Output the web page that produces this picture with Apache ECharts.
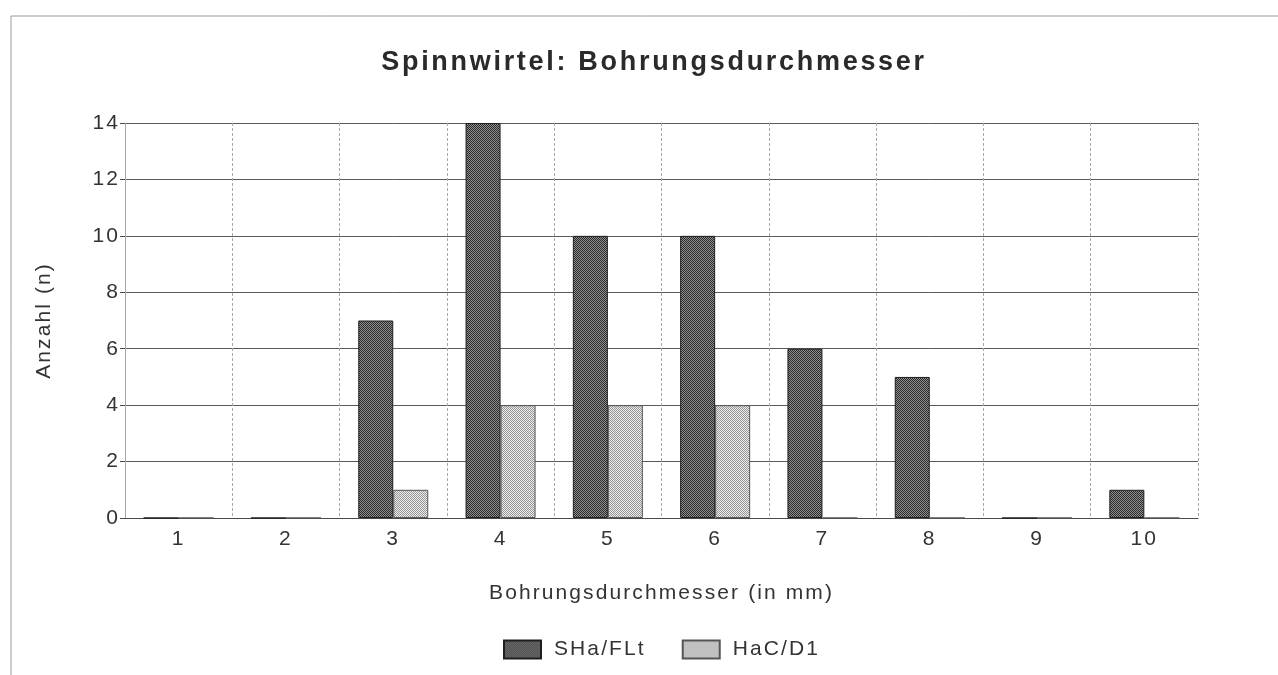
<!DOCTYPE html>
<html>
<head>
<meta charset="utf-8">
<title>Spinnwirtel: Bohrungsdurchmesser</title>
<script src="https://cdnjs.cloudflare.com/ajax/libs/echarts/6.0.0/echarts.min.js"></script>
<style>
  html, body { margin: 0; padding: 0; background: #fff; }
  #chart { width: 1278px; height: 675px; }
</style>
</head>
<body>
<div id="chart"></div>
<script>
  // data
  var categories = ['1', '2', '3', '4', '5', '6', '7', '8', '9', '10'];
  var shaFlt = [0, 0, 7, 14, 10, 10, 6, 5, 0, 1];
  var hacD1 = [0, 0, 1, 4, 4, 4, 0, 0, 0, 0];
  var seriesNames = ['SHa/FLt', 'HaC/D1'];
  var yMin = 0, yMax = 14, yStep = 2;

  var FONT = '"Liberation Sans", Arial, sans-serif';
  var INK = '#333';

  // the old print has a bit of letter spacing on every text; canvas supports it natively
  (function () {
    var proto = CanvasRenderingContext2D.prototype;
    if (!('letterSpacing' in proto)) return;
    function spread(ctx) {
      var m = /(\d+(?:\.\d+)?)px/.exec(ctx.font);
      ctx.letterSpacing = m ? (parseFloat(m[1]) * 0.1).toFixed(1) + 'px' : '0px';
    }
    var fill = proto.fillText, measure = proto.measureText;
    proto.fillText = function () { spread(this); return fill.apply(this, arguments); };
    proto.measureText = function () { spread(this); return measure.apply(this, arguments); };
  })();

  // small raster tiles to mimic the screened fills
  function tile(bg, fg) {
    var c = document.createElement('canvas');
    c.width = 4; c.height = 4;
    var g = c.getContext('2d');
    g.fillStyle = bg;
    g.fillRect(0, 0, 4, 4);
    g.fillStyle = fg;
    for (var y = 0; y < 4; y++) {
      for (var x = 0; x < 4; x++) {
        if ((x + y) % 2 === 0) g.fillRect(x, y, 1, 1);
      }
    }
    return { image: c, repeat: 'repeat' };
  }
  var darkFill = tile('#8e8e8e', '#2c2c2c');
  var lightFill = tile('#ececec', '#969696');

  var chart = echarts.init(document.getElementById('chart'), null, { renderer: 'canvas' });

  chart.setOption({
    backgroundColor: '#fff',
    animation: false,
    textStyle: { fontFamily: FONT, color: INK },
    title: {
      text: 'Spinnwirtel: Bohrungsdurchmesser',
      left: 649,
      top: 43,
      textAlign: 'center',
      textStyle: { fontFamily: FONT, fontSize: 27, fontWeight: 'bold', color: '#2a2a2a' }
    },
    grid: { left: 125, right: 80, top: 123, bottom: 157 },
    legend: {
      left: 498,
      top: 633,
      icon: 'rect',
      itemWidth: 37,
      itemHeight: 18,
      itemGap: 36,
      textStyle: { fontFamily: FONT, fontSize: 21, color: INK, padding: [0, 0, 0, 8] },
      data: seriesNames
    },
    xAxis: {
      type: 'category',
      data: categories,
      name: 'Bohrungsdurchmesser (in mm)',
      nameLocation: 'middle',
      nameGap: 64,
      nameTextStyle: { fontFamily: FONT, fontSize: 21, color: INK },
      axisLine: { lineStyle: { color: '#4a4a4a', width: 1 } },
      axisTick: { length: 4, lineStyle: { color: '#8a8a8a' } },
      axisLabel: { fontFamily: FONT, fontSize: 21, color: INK, margin: 10 },
      splitLine: { show: true, lineStyle: { color: '#a8a8a8', type: [3, 2] } }
    },
    yAxis: {
      type: 'value',
      min: yMin,
      max: yMax,
      interval: yStep,
      name: 'Anzahl (n)',
      nameLocation: 'middle',
      nameGap: 69,
      nameTextStyle: { fontFamily: FONT, fontSize: 21, color: INK },
      axisLine: { show: true, lineStyle: { color: '#a8a8a8', type: [3, 2] } },
      axisTick: { show: true, length: 5, lineStyle: { color: '#4a4a4a' } },
      axisLabel: { fontFamily: FONT, fontSize: 21, color: INK, margin: 5 },
      splitLine: { show: true, lineStyle: { color: '#5a5a5a', width: 1 } }
    },
    series: [
      {
        name: seriesNames[0],
        type: 'bar',
        data: shaFlt,
        barWidth: 35,
        barGap: '0%',
        itemStyle: { color: darkFill, borderColor: '#1e1e1e', borderWidth: 1 }
      },
      {
        name: seriesNames[1],
        type: 'bar',
        data: hacD1,
        barWidth: 35,
        barGap: '0%',
        itemStyle: { color: lightFill, borderColor: '#555', borderWidth: 1 }
      }
    ],
    graphic: [
      // outer frame of the scanned page (top and left edges only)
      { type: 'line', silent: true, shape: { x1: 11, y1: 16, x2: 1278, y2: 16 }, style: { stroke: '#9a9a9a', lineWidth: 1 } },
      { type: 'line', silent: true, shape: { x1: 11, y1: 16, x2: 11, y2: 675 }, style: { stroke: '#9a9a9a', lineWidth: 1 } }
    ]
  });
</script>
</body>
</html>
